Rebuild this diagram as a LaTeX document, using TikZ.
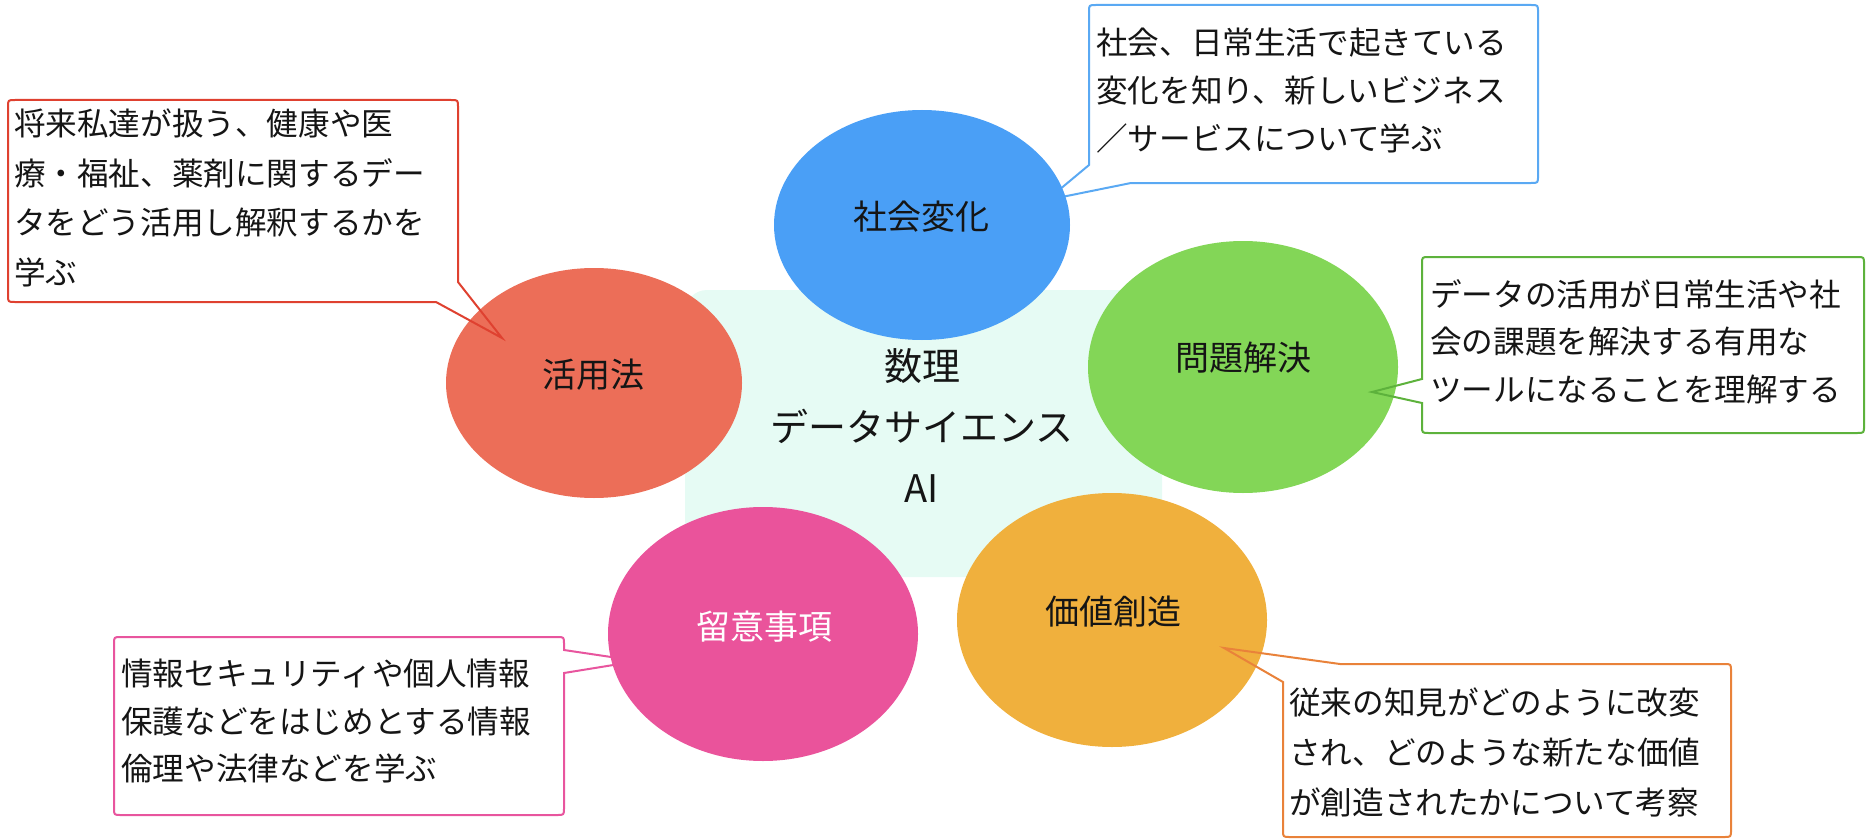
\documentclass[tikz,border=0pt]{standalone}
\usepackage{fontspec}
\setmainfont{Noto Sans CJK JP}
\usetikzlibrary{shapes.geometric}
\definecolor{bgmint}{HTML}{E6FBF4}
\definecolor{fillred}{HTML}{EC6E58}
\definecolor{fillblue}{HTML}{4A9FF6}
\definecolor{fillgreen}{HTML}{83D657}
\definecolor{fillpink}{HTML}{EA539B}
\definecolor{fillorange}{HTML}{F0B03D}
\definecolor{linered}{HTML}{DF4130}
\definecolor{lineblue}{HTML}{5AA9F3}
\definecolor{linegreen}{HTML}{5DB23C}
\definecolor{linepink}{HTML}{E8559E}
\definecolor{lineorange}{HTML}{E9823A}
\definecolor{txt}{HTML}{151515}
\tikzset{
  bubble/.style={ellipse, inner sep=0pt, draw=none},
  bublabel/.style={font=\fontsize{34}{40}\selectfont, text=txt, inner sep=0pt},
  calltext/.style={anchor=north west, inner sep=0pt, align=left, text=txt},
  callline/.style={line width=2pt, line join=miter},
}
\newcommand{\redcall}{(15,100) -- (451,100) .. controls (458,100) .. (458,107) -- (458,282) -- (rtip) -- (436,302) -- (15,302) .. controls (8,302) .. (8,295) -- (8,107) .. controls (8,100) .. (15,100) -- cycle}
\newcommand{\bluecall}{(1096,5) -- (1531,5) .. controls (1538,5) .. (1538,12) -- (1538,176) .. controls (1538,183) .. (1531,183) -- (1131,183) -- (btip) -- (1089,165) -- (1089,12) .. controls (1089,5) .. (1096,5) -- cycle}
\newcommand{\greencall}{(1429,257) -- (1857,257) .. controls (1864,257) .. (1864,264) -- (1864,426) .. controls (1864,433) .. (1857,433) -- (1429,433) .. controls (1422,433) .. (1422,426) -- (1422,403) -- (gtip) -- (1422,379) -- (1422,264) .. controls (1422,257) .. (1429,257) -- cycle}
\newcommand{\pinkcall}{(121,637) -- (557,637) .. controls (564,637) .. (564,644) -- (564,650) -- (ptip) -- (564,673) -- (564,808) .. controls (564,815) .. (557,815) -- (121,815) .. controls (114,815) .. (114,808) -- (114,644) .. controls (114,637) .. (121,637) -- cycle}
\newcommand{\orangecall}{(1340,664) -- (1724,664) .. controls (1731,664) .. (1731,671) -- (1731,830) .. controls (1731,837) .. (1724,837) -- (1290,837) .. controls (1283,837) .. (1283,830) -- (1283,682) -- (otip) -- cycle}
\begin{document}
\begin{tikzpicture}[x=1pt,y=-1pt]
\useasboundingbox (0,0) rectangle (1866,840);
% pointer tips
\coordinate (rtip) at (502,338);
\coordinate (btip) at (1047,200);
\coordinate (gtip) at (1372,392);
\coordinate (ptip) at (638,661);
\coordinate (otip) at (1224,648);
% centre panel
\fill[bgmint, rounded corners=22pt] (685,290) rectangle (1162,577);
\node[font=\fontsize{38}{61}\selectfont, align=center, text=txt, inner sep=0pt] (core) at (922,426) {数理\\データサイエンス\\AI};
% callout backgrounds
\fill[white] \redcall;
\fill[white] \greencall;
\fill[white] \orangecall;
\fill[white] \bluecall;
\fill[white] \pinkcall;
% callouts hidden under their bubbles
\draw[callline, lineblue] \bluecall;
\draw[callline, linepink] \pinkcall;
% bubbles
\node[bubble, fill=fillblue, minimum width=296pt, minimum height=230pt] (social) at (922,225) {};
\node[bubble, fill=fillred, minimum width=296pt, minimum height=230pt] (usage) at (594,383) {};
\node[bubble, fill=fillgreen, minimum width=310pt, minimum height=252pt] (problem) at (1243,367) {};
\node[bubble, fill=fillpink, minimum width=310pt, minimum height=254pt] (caution) at (763,634) {};
\node[bubble, fill=fillorange, minimum width=310pt, minimum height=254pt] (value) at (1112,620) {};
\node[bublabel] (socialtxt) at (921,217) {社会変化};
\node[bublabel] (usagetxt) at (593,375) {活用法};
\node[bublabel] (problemtxt) at (1243,358) {問題解決};
\node[bublabel, text=white] (cautiontxt) at (764,627) {留意事項};
\node[bublabel] (valuetxt) at (1113,612) {価値創造};
% callouts drawn above their bubbles
\draw[callline, linered] \redcall;
\draw[callline, linegreen] \greencall;
\draw[callline, lineorange] \orangecall;
% callout texts
\node[calltext, font=\fontsize{31.6}{49.5}\selectfont] (usagenote) at (14,109) {将来私達が扱う、健康や医\\療・福祉、薬剤に関するデー\\タをどう活用し解釈するかを\\学ぶ};
\node[calltext, font=\fontsize{31.6}{48}\selectfont] (socialnote) at (1096,28) {社会、日常生活で起きている\\変化を知り、新しいビジネス\\／サービスについて学ぶ};
\node[calltext, font=\fontsize{31.6}{47.5}\selectfont] (problemnote) at (1430,279) {データの活用が日常生活や社\\会の課題を解決する有用な\\ツールになることを理解する};
\node[calltext, font=\fontsize{31.6}{47.5}\selectfont] (cautionnote) at (121,659) {情報セキュリティや個人情報\\保護などをはじめとする情報\\倫理や法律などを学ぶ};
\node[calltext, font=\fontsize{31.6}{50}\selectfont] (valuenote) at (1289,688) {従来の知見がどのように改変\\され、どのような新たな価値\\が創造されたかについて考察};
\end{tikzpicture}
\end{document}
